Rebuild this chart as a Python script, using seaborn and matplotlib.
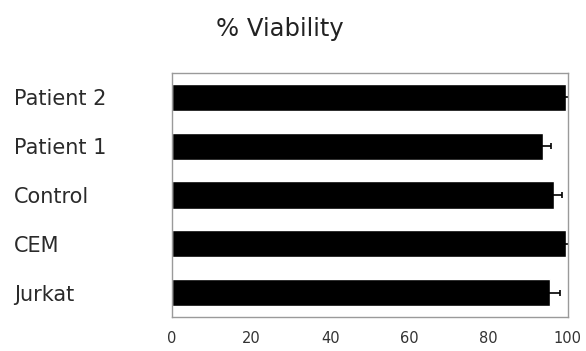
import matplotlib
matplotlib.use("Agg")
import matplotlib.pyplot as plt
import seaborn as sns

# ---- data ----
groups = ["Patient 2", "Patient 1", "Control", "CEM", "Jurkat"]
viability = [99.5, 93.6, 96.6, 99.6, 95.6]
viability_err = [1.1, 2.1, 1.9, 1.0, 2.3]
x_ticks = [0, 20, 40, 60, 80, 100]

sns.set_style("white")
plt.rcParams["font.family"] = ["DejaVu Sans"]

fig = plt.figure(figsize=(5.86, 3.51), dpi=100)
ax = fig.add_axes([0.2935, 0.097, 0.6755, 0.695])

sns.barplot(x=viability, y=groups, orient="h", color="black",
            width=0.56, saturation=1, errorbar=None, ax=ax)
ax.errorbar(viability, range(len(groups)), xerr=viability_err, fmt="none",
            ecolor="black", elinewidth=1.2, capsize=2.5, capthick=1.2)

ax.set_xlim(0, 100)
ax.set_ylim(len(groups) - 0.5, -0.5)
ax.set_xticks(x_ticks)
ax.set_xticklabels([str(t) for t in x_ticks])
ax.set_xlabel("")
ax.set_ylabel("")

for s in ax.spines.values():
    s.set_visible(True)
    s.set_color("#9a9a9a")
    s.set_linewidth(1.0)

ax.tick_params(axis="x", direction="out", length=4, width=0.8, color="#555555",
               labelsize=10.5, labelcolor="#333333", pad=6)
ax.tick_params(axis="y", length=0, labelsize=15, labelcolor="#2a2a2a", pad=114)
for lbl in ax.get_yticklabels():
    lbl.set_horizontalalignment("left")

fig.text(0.478, 0.918, "% Viability", ha="center", va="center",
         fontsize=17.5, color="#222222")

fig.savefig("out.png", dpi=100)
